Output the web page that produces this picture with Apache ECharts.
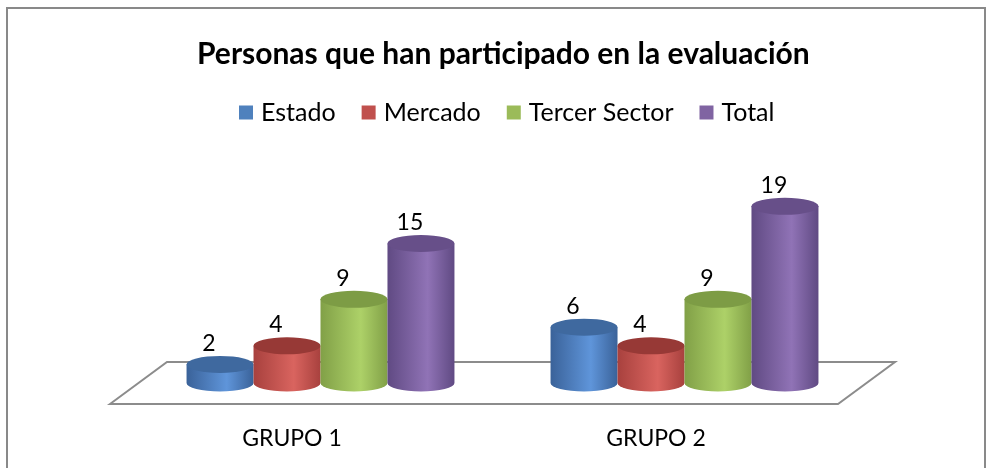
<!DOCTYPE html>
<html>
<head>
<meta charset="utf-8">
<script src="https://cdn.jsdelivr.net/npm/echarts@6/dist/echarts.min.js"></script>
<style>
html,body{margin:0;padding:0;background:#fff;}
#chart{width:986px;height:468px;}
</style>
</head>
<body>
<div id="chart"></div>
<script>
const categories = ['GRUPO 1', 'GRUPO 2'];
const seriesNames = ['Estado', 'Mercado', 'Tercer Sector', 'Total'];
const estado = [2, 6];
const mercado = [4, 4];
const tercerSector = [9, 9];
const total = [15, 19];
const titleText = 'Personas que han participado en la evaluación';

const seriesValues = [estado, mercado, tercerSector, total];
// [edge, light, top]
const palettes = [
  ['#3A6299', '#5F95DA', '#3F699F'],
  ['#A8413E', '#D9645F', '#973936'],
  ['#81A047', '#ADD168', '#7D9C45'],
  ['#604A83', '#9073B6', '#674F89']
];
const legendColors = ['#4F81BD', '#C0504D', '#9BBB59', '#8064A2'];
const FONT = 'Lato, "Open Sans", sans-serif';
const DEPTH_X = 57, DEPTH_Y = 42;

function cylinderRender(params, api) {
  const cat = api.value(0), val = api.value(1);
  const base = api.coord([cat, 0]);
  const topP = api.coord([cat, val]);
  const band = api.size([1, 0])[0];
  const w = band * 0.184;
  const idx = params.seriesIndex - 1;
  const cx = base[0] - 2 * w + (idx + 0.5) * w + DEPTH_X / 2;
  const yb = base[1] - DEPTH_Y / 2;
  const yt = topP[1] - DEPTH_Y / 2;
  const rx = w / 2, ry = 8.5;
  const pal = palettes[idx];
  const body = 'M' + (cx - rx) + ' ' + yt + ' L' + (cx - rx) + ' ' + yb +
    ' A' + rx + ' ' + ry + ' 0 0 0 ' + (cx + rx) + ' ' + yb +
    ' L' + (cx + rx) + ' ' + yt + ' Z';
  const cap = 'M' + (cx - rx) + ' ' + yt +
    ' A' + rx + ' ' + ry + ' 0 1 0 ' + (cx + rx) + ' ' + yt +
    ' A' + rx + ' ' + ry + ' 0 1 0 ' + (cx - rx) + ' ' + yt + ' Z';
  return {
    type: 'group',
    children: [
      {
        type: 'path',
        shape: { pathData: body },
        style: {
          fill: new echarts.graphic.LinearGradient(0, 0, 1, 0, [
            { offset: 0, color: pal[0] },
            { offset: 0.6, color: pal[1] },
            { offset: 1, color: pal[0] }
          ])
        }
      },
      {
        type: 'path',
        shape: { pathData: cap },
        style: { fill: pal[2] }
      },
      {
        type: 'text',
        z2: 10,
        style: {
          x: cx - 11,
          y: yt - ry - 1,
          text: String(val),
          fill: '#000',
          font: '23px ' + FONT,
          align: 'center',
          verticalAlign: 'bottom'
        }
      }
    ]
  };
}

function floorRender(params, api) {
  const cs = params.coordSys;
  const x0 = cs.x, x1 = cs.x + cs.width, yf = cs.y + cs.height;
  return {
    type: 'polygon',
    shape: {
      points: [[x0, yf], [x0 + DEPTH_X, yf - DEPTH_Y], [x1 + DEPTH_X, yf - DEPTH_Y], [x1, yf]]
    },
    style: { fill: '#fff', stroke: '#8C8C8C', lineWidth: 2 }
  };
}

const series = [{
  type: 'custom',
  name: 'floor',
  renderItem: floorRender,
  data: [[0, 0]],
  z: 1,
  silent: true
}];
seriesNames.forEach(function (name, i) {
  series.push({
    type: 'custom',
    name: name,
    renderItem: cylinderRender,
    data: categories.map(function (c, j) { return [j, seriesValues[i][j]]; }),
    encode: { x: 0, y: 1 },
    itemStyle: { color: legendColors[i] },
    z: 2
  });
});

const chart = echarts.init(document.getElementById('chart'), null, { renderer: 'canvas' });
chart.setOption({
  animation: false,
  backgroundColor: '#fff',
  title: {
    text: titleText,
    left: 192,
    top: 34,
    textStyle: { fontFamily: FONT, fontWeight: 'bold', fontSize: 30, color: '#000' }
  },
  legend: {
    data: seriesNames,
    top: 95,
    left: 234,
    icon: 'rect',
    itemWidth: 14,
    itemHeight: 14,
    itemGap: 26,
    textStyle: { fontFamily: FONT, fontSize: 25, color: '#000', padding: [0, 0, 0, 3] }
  },
  grid: { left: 110, width: 728, top: 218, bottom: 64 },
  xAxis: {
    type: 'category',
    data: categories,
    axisLine: { show: false },
    axisTick: { show: false },
    axisLabel: { margin: 23, fontFamily: FONT, fontSize: 23, color: '#000' }
  },
  yAxis: {
    type: 'value',
    min: 0,
    max: 20,
    show: false
  },
  graphic: [{
    type: 'rect',
    shape: { x: 7, y: 8, width: 978, height: 480 },
    style: { fill: 'none', stroke: '#898989', lineWidth: 2 },
    z: 100,
    silent: true
  }],
  series: series
});
</script>
</body>
</html>
